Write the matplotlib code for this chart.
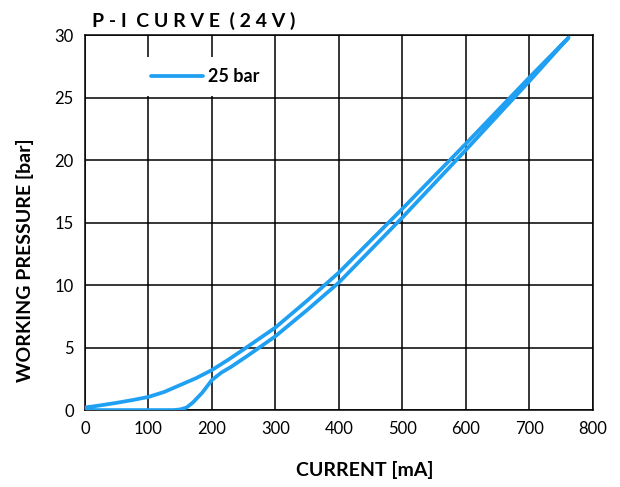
import matplotlib.pyplot as plt

plt.rcParams['font.family'] = ['Lato', 'DejaVu Sans']

# Rising branch (current increasing)
up_current = [0, 140, 150, 160, 170, 185, 200, 215, 230, 255, 300, 350, 400, 500, 600, 700, 762]
up_pressure = [0, 0, 0.05, 0.2, 0.6, 1.4, 2.4, 3.0, 3.45, 4.3, 5.9, 8.0, 10.2, 15.4, 20.8, 26.3, 29.8]

# Falling branch (current decreasing)
down_current = [762, 700, 600, 500, 400, 350, 300, 250, 225, 200, 175, 150, 125, 100, 75, 50, 25, 0]
down_pressure = [29.8, 26.6, 21.3, 16.1, 11.0, 8.75, 6.6, 4.85, 4.0, 3.2, 2.55, 2.0, 1.45, 1.05, 0.8, 0.58, 0.38, 0.2]

x_ticks = [0, 100, 200, 300, 400, 500, 600, 700, 800]
y_ticks = [0, 5, 10, 15, 20, 25, 30]

blue = '#1FA0F2'

fig = plt.figure(figsize=(6.2, 4.87), dpi=100)
ax = fig.add_axes([0.137, 0.158, 0.819, 0.770])

ax.plot(up_current + down_current, up_pressure + down_pressure,
        color=blue, linewidth=2.7, solid_capstyle='round', solid_joinstyle='round',
        label='25 bar', zorder=3)

ax.set_xlim(0, 800)
ax.set_ylim(0, 30)
ax.set_xticks(x_ticks)
ax.set_yticks(y_ticks)
ax.tick_params(length=0, labelsize=12, pad=8)
ax.grid(True, color='black', linewidth=1.1)
for s in ax.spines.values():
    s.set_color('black')
    s.set_linewidth(1.1)
ax.set_axisbelow(True)

ax.set_xlabel('CURRENT [mA]', fontsize=14, fontweight='bold')
ax.set_ylabel('WORKING PRESSURE [bar]', fontsize=14, fontweight='bold')
ax.xaxis.set_label_coords(0.551, -0.16)
ax.yaxis.set_label_coords(-0.118, 0.40)
ax.xaxis.label.set_va('center')
ax.yaxis.label.set_va('center')

leg = ax.legend(loc='upper left', bbox_to_anchor=(0.09, 0.965),
                handlelength=2.9, handletextpad=0.3, borderpad=0.6,
                frameon=True, fancybox=False, framealpha=1, edgecolor='none',
                facecolor='white', prop={'weight': 'bold', 'size': 13})

fig.text(0.148, 0.958, 'P - I  C U R V E  ( 2 4 V )', fontsize=14,
         fontweight='bold', ha='left', va='center')

fig.savefig('out.png', dpi=100)
